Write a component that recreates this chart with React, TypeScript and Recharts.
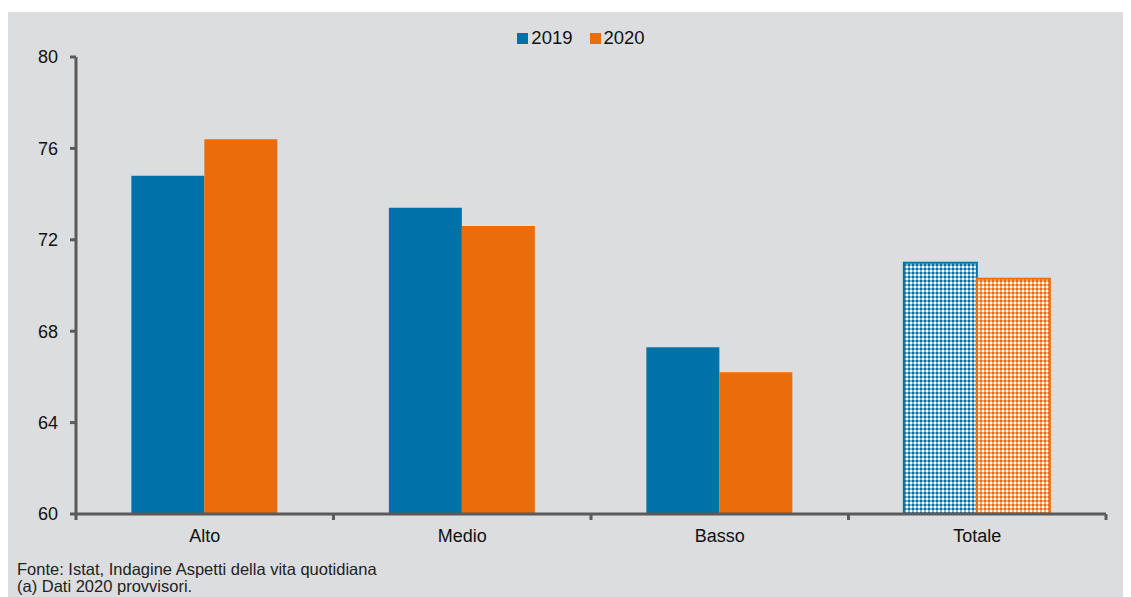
import { BarChart, Bar, XAxis, YAxis, Cell } from 'recharts';

const categories = ['Alto', 'Medio', 'Basso', 'Totale'];
const values2019 = [74.8, 73.4, 67.3, 71.0];
const values2020 = [76.4, 72.6, 66.2, 70.3];
const yTicks = [60, 64, 68, 72, 76, 80];
const seriesNames = ['2019', '2020'];

const BLUE = '#0072aa';
const ORANGE = '#eb6c0a';
const AXIS = '#5a5a5a';
const BG = '#dcdddf';

const W = 1123;
const H = 545;
const M = { top: 45, right: 25, bottom: 13, left: 0 };
const Y_W = 68;

const data = categories.map((c, i) => ({ name: c, y2019: values2019[i], y2020: values2020[i] }));

const band = (W - M.left - M.right - Y_W) / categories.length;

function XTick(props: any) {
  const { x, y, payload, index } = props;
  const last = index === categories.length - 1;
  return (
    <g>
      <line x1={x - band / 2} x2={x - band / 2} y1={y - 8} y2={y - 2} stroke={AXIS} strokeWidth={3} />
      {last && <line x1={x + band / 2} x2={x + band / 2} y1={y - 8} y2={y - 2} stroke={AXIS} strokeWidth={3} />}
      <text x={x} y={y + 20} textAnchor="middle" fontSize={18} fill="#111">
        {payload.value}
      </text>
    </g>
  );
}

function LegendBox() {
  const colors = [BLUE, ORANGE];
  return (
    <div
      style={{
        position: 'absolute',
        top: 16,
        left: 58,
        width: 1030,
        display: 'flex',
        justifyContent: 'center',
        gap: 17,
        fontSize: 18.5,
        lineHeight: '20px',
        color: '#111',
      }}
    >
      {seriesNames.map((s, i) => (
        <span key={s} style={{ display: 'flex', alignItems: 'center' }}>
          <span style={{ width: 11, height: 11, background: colors[i], display: 'inline-block', marginRight: 3 }} />
          {s}
        </span>
      ))}
    </div>
  );
}

export default function App() {
  return (
    <div
      style={{
        marginTop: 4,
        width: W,
        height: 585,
        background: BG,
        fontFamily: '"Liberation Sans", Arial, sans-serif',
        position: 'relative',
        overflow: 'hidden',
      }}
    >
      <LegendBox />
      <BarChart width={W} height={H} data={data} margin={M} barGap={0} barCategoryGap="21.5%">
        <defs>
          <pattern id="checkBlue" width="4" height="4" patternUnits="userSpaceOnUse">
            <rect width="4" height="4" fill="#7fb3d3" />
            <rect x="0" y="0" width="2" height="2" fill={BLUE} />
            <rect x="2" y="2" width="2" height="2" fill="#ffffff" />
          </pattern>
          <pattern id="checkOrange" width="4" height="4" patternUnits="userSpaceOnUse">
            <rect width="4" height="4" fill="#f4a872" />
            <rect x="0" y="0" width="2" height="2" fill={ORANGE} />
            <rect x="2" y="2" width="2" height="2" fill="#ffffff" />
          </pattern>
        </defs>
        <XAxis
          dataKey="name"
          stroke={AXIS}
          strokeWidth={3}
          tickLine={false}
          height={30}
          tick={<XTick />}
          interval={0}
        />
        <YAxis
          domain={[60, 80]}
          ticks={yTicks}
          width={Y_W}
          stroke={AXIS}
          strokeWidth={3}
          tickSize={6}
          tickMargin={12}
          tick={{ fontSize: 18, fill: '#111' }}
          allowDataOverflow
        />
        <Bar dataKey="y2019" fill={BLUE} isAnimationActive={false}>
          {data.map((d, i) => (
            <Cell
              key={d.name}
              fill={i === 3 ? 'url(#checkBlue)' : BLUE}
              stroke={i === 3 ? BLUE : 'none'}
              strokeWidth={i === 3 ? 2 : 0}
            />
          ))}
        </Bar>
        <Bar dataKey="y2020" fill={ORANGE} isAnimationActive={false}>
          {data.map((d, i) => (
            <Cell
              key={d.name}
              fill={i === 3 ? 'url(#checkOrange)' : ORANGE}
              stroke={i === 3 ? ORANGE : 'none'}
              strokeWidth={i === 3 ? 2 : 0}
            />
          ))}
        </Bar>
      </BarChart>
      <div
        style={{
          position: 'absolute',
          left: 9,
          top: 549,
          fontSize: 16.5,
          lineHeight: '17px',
          color: '#222',
          fontFamily: '"Liberation Sans", sans-serif',
        }}
      >
        <div>Fonte: Istat, Indagine Aspetti della vita quotidiana</div>
        <div>(a) Dati 2020 provvisori.</div>
      </div>
    </div>
  );
}
